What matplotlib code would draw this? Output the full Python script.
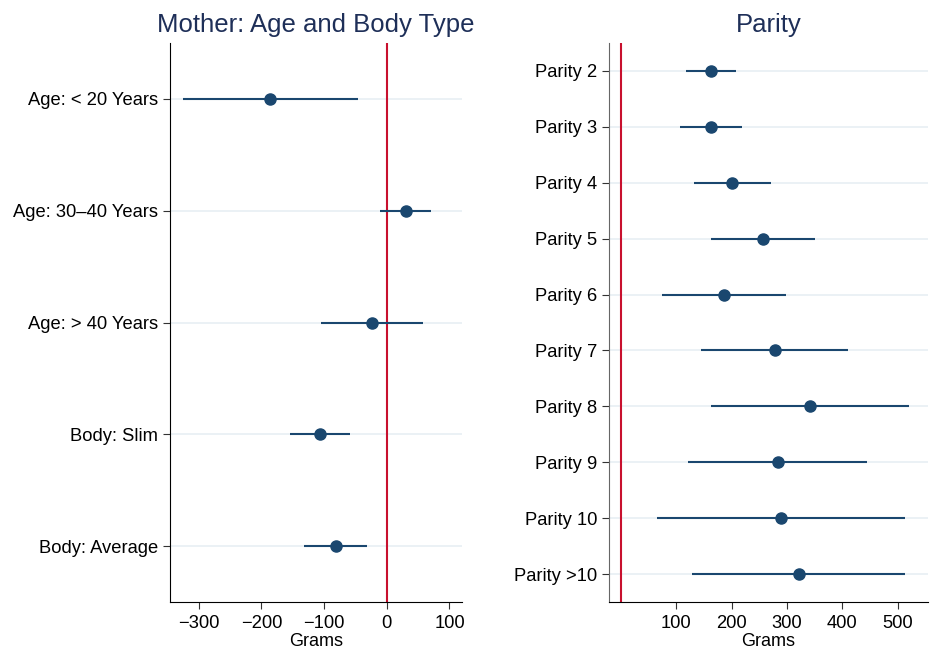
import matplotlib
matplotlib.use("Agg")
import matplotlib.pyplot as plt

plt.rcParams['font.family'] = ['Liberation Sans', 'DejaVu Sans']

# left panel: mother's age and body type
mother_labels = ["Age: < 20 Years", "Age: 30\u201340 Years", "Age: > 40 Years",
                 "Body: Slim", "Body: Average"]
mother_est = [-186, 30, -24, -106, -81]
mother_lo = [-326, -11, -105, -155, -132]
mother_hi = [-46, 71, 58, -58, -32]

# right panel: parity
parity_labels = ["Parity 2", "Parity 3", "Parity 4", "Parity 5", "Parity 6",
                 "Parity 7", "Parity 8", "Parity 9", "Parity 10", "Parity >10"]
parity_est = [162, 162, 201, 256, 186, 278, 341, 283, 290, 321]
parity_lo = [117, 107, 131, 162, 74, 145, 162, 121, 65, 129]
parity_hi = [208, 218, 272, 350, 299, 411, 520, 444, 514, 513]

navy = "#1a476f"
red = "#c8102e"
title_col = "#1e2f58"
grid_col = "#e8eff3"

fig = plt.figure(figsize=(9.3, 6.5), dpi=100)
ax1 = fig.add_axes([0.1828, 0.0738, 0.314, 0.86])
ax2 = fig.add_axes([0.6548, 0.0738, 0.343, 0.86])


def draw_panel(ax, labels, est, lo, hi, title, spine_col):
    ypos = list(range(1, len(labels) + 1))
    for y in ypos:
        ax.axhline(y, color=grid_col, lw=1.2, zorder=0)
    ax.axvline(0, color=red, lw=1.5, zorder=1)
    for y, l, h in zip(ypos, lo, hi):
        ax.plot([l, h], [y, y], color=navy, lw=1.5, solid_capstyle="butt", zorder=2)
    ax.plot(est, ypos, "o", color=navy, ms=8, zorder=3)
    ax.set_ylim(len(labels) + 0.5, 0.5)
    ax.set_yticks(ypos)
    ax.set_yticklabels(labels, fontsize=13.2)
    ax.set_title(title, fontsize=18.5, color=title_col, pad=8)
    ax.set_xlabel("Grams", fontsize=13, labelpad=1)
    for s in ["top", "right"]:
        ax.spines[s].set_visible(False)
    ax.spines["left"].set_color(spine_col)
    ax.spines["bottom"].set_color("black")
    ax.tick_params(axis="both", labelsize=13.2, length=5, color="#333333")
    ax.tick_params(axis="x", pad=4)


draw_panel(ax1, mother_labels, mother_est, mother_lo, mother_hi,
           "Mother: Age and Body Type", "black")
ax1.set_xlim(-346, 120)
ax1.set_xticks([-300, -200, -100, 0, 100])

draw_panel(ax2, parity_labels, parity_est, parity_lo, parity_hi,
           "Parity", "#666666")
ax2.set_xlim(-22, 555)
ax2.set_xticks([100, 200, 300, 400, 500])

fig.savefig("out.png", dpi=100)
